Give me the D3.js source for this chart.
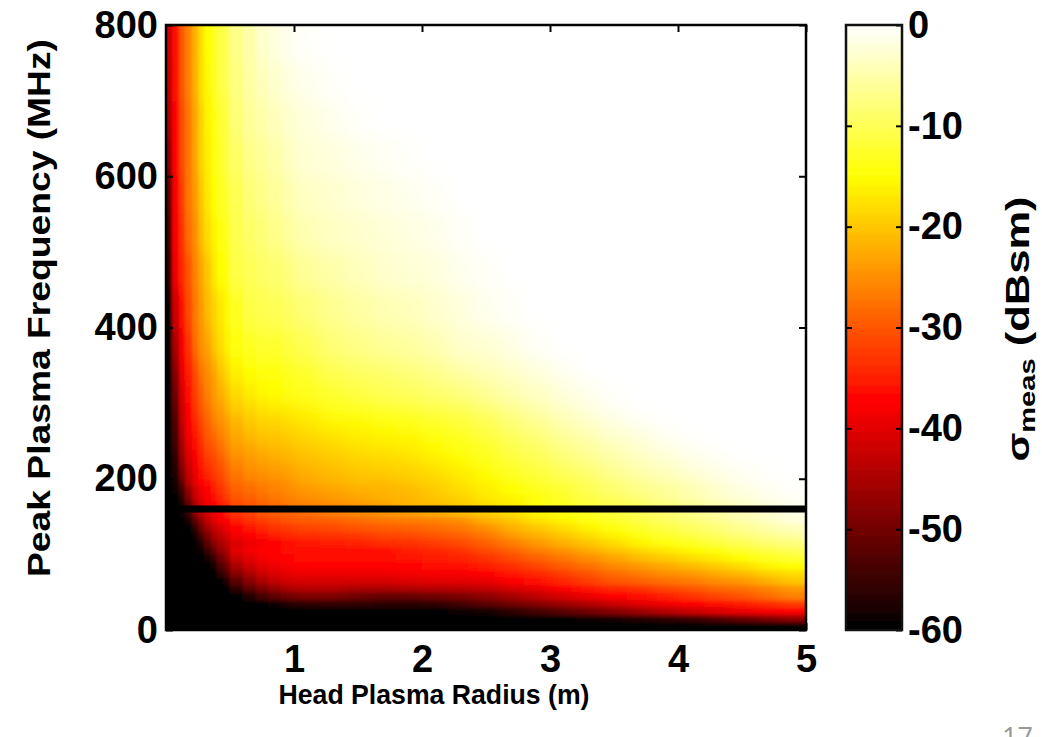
<!DOCTYPE html>
<html><head><meta charset="utf-8">
<script src="https://cdn.jsdelivr.net/npm/d3@7/dist/d3.min.js"></script>
<style>html,body{margin:0;padding:0;background:#fff;overflow:hidden}svg{display:block}
text{font-family:"Liberation Sans",Arial,sans-serif;font-weight:bold;fill:#000}</style>
</head><body><svg id="c" width="1042" height="737"></svg>
<script>
// right edge of each radius column (m)
const radiusEdges=[.05,.1,.15,.2,.25,.3,.35,.4,.45,.5,.6,.7,.8,.9,1,1.2,1.4,1.6,1.8,2,2.2,2.4,2.6,2.8,3,3.2,3.4,3.6,3.8,4,4.2,4.4,4.6,4.8,5];
// top edge of each frequency row (MHz), same order as sigmaMeas rows
const freqEdges=[800,750,700,650,600,550,500,450,400,360,330,300,280,260,240,220,200,190,180,170,160,150,140,130,120,110,100,90,80,70,60,50,40,30,20,10];
// sigma_meas (dBsm)
const sigmaMeas=[
[-42,-36,-30,-26,-22,-18,-15,-13,-11,-10,-7,-5,-3,-2,-1,-.3,0,0,0,0,0,0,0,0,0,0,0,0,0,0,0,0,0,0,0],
[-43,-36,-30,-26,-22,-18,-15.5,-13,-11,-10,-7.5,-5.5,-4,-3,-2,-1,-.3,0,0,0,0,0,0,0,0,0,0,0,0,0,0,0,0,0,0],
[-45,-37,-31,-27,-23,-19,-16,-14,-12,-11,-8,-6,-5,-4,-3,-2,-1,-.3,0,0,0,0,0,0,0,0,0,0,0,0,0,0,0,0,0],
[-48,-37,-31,-27,-23,-19,-16.5,-14,-12.5,-11,-9,-7,-6,-5,-4,-2.5,-2,-1.2,-.7,-.3,0,0,0,0,0,0,0,0,0,0,0,0,0,0,0],
[-52,-38,-32,-27,-24,-20,-17,-15,-13,-12,-10,-8,-7,-6,-5,-3.5,-2.8,-2,-1.5,-1,-.5,0,0,0,0,0,0,0,0,0,0,0,0,0,0],
[-54,-38,-33,-28,-25,-21,-18,-16,-14,-13,-10.5,-9,-8,-7,-6,-4.5,-3.5,-3,-2.3,-1.8,-1.2,-.5,0,0,0,0,0,0,0,0,0,0,0,0,0],
[-56,-39,-34,-30,-26,-23,-20,-17,-15,-14,-11,-10,-9,-8.5,-8,-6,-5,-4,-3,-2.5,-2,-1,-.4,0,0,0,0,0,0,0,0,0,0,0,0],
[-60,-42,-36,-31,-27,-24,-21,-19,-17,-15.5,-13,-11,-10.5,-10,-9.5,-8,-6.5,-5.5,-4.5,-4,-3,-2,-1,-.4,0,0,0,0,0,0,0,0,0,0,0],
[-60,-45,-38,-33,-28,-25,-23,-20,-18,-16,-14,-13,-12,-12,-11.5,-10,-8,-7,-6,-5.5,-4.5,-3,-2.5,-1.5,-.4,0,0,0,0,0,0,0,0,0,0],
[-60,-48,-39,-35,-31,-27,-25,-23,-20,-18,-16,-15,-14,-14,-13,-12,-10,-9,-8.5,-7.5,-6.5,-5,-4,-3,-1.8,-.7,0,0,0,0,0,0,0,0,0],
[-60,-50,-41,-36,-32,-29,-26,-24,-22,-20,-18,-16.5,-15.5,-15,-14.5,-13.5,-12,-11,-10,-9.5,-8.5,-7.5,-6,-4.5,-3.5,-2,-1,-.2,0,0,0,0,0,0,0],
[-60,-52,-42,-37,-33,-30,-28,-25,-24,-22,-20,-19,-18,-17.5,-17,-16,-14.5,-14,-13,-12.5,-11.5,-10.5,-9,-7,-5,-3.5,-2,-.8,0,0,0,0,0,0,0],
[-60,-53,-43,-38,-35,-32,-29,-27,-25,-24,-22,-20,-19,-19,-18.5,-17.5,-16,-15.5,-15,-14,-13,-12,-10.5,-8.5,-7,-5,-3.5,-2,-1,-.2,0,0,0,0,0],
[-60,-54,-45,-39,-36,-33,-30,-29,-27,-25,-23,-22,-21,-20.5,-20,-19,-18,-17,-16.5,-16,-15,-13.5,-12,-10,-8.5,-6.5,-5,-3.5,-2.5,-1,-.3,0,0,0,0],
[-60,-56,-46,-41,-38,-35,-32,-31,-29,-27,-25,-24,-23,-22,-22,-20.5,-19.5,-18.5,-18,-17.5,-16,-15,-13.5,-11.5,-10,-8,-6.5,-5,-3.5,-2.5,-1.2,-.5,0,0,0],
[-60,-57,-49,-43,-39,-36,-34,-32,-31,-29,-27,-25,-24.5,-24,-23.5,-22,-21,-20,-19.5,-19,-18,-16.5,-15,-13,-11.5,-10,-8.5,-6.5,-5,-4,-2.5,-1.5,-.7,-.2,0],
[-60,-58,-52,-44,-40,-37.5,-36,-34,-32,-30,-28,-27,-26,-25.5,-25,-23,-22,-21,-21,-20,-19,-17.5,-16,-14.5,-12.5,-11,-9.5,-8,-6.5,-5,-4,-2.5,-1.2,-.5,-.1],
[-60,-59,-54,-47,-42,-39,-37,-35,-33,-31,-29,-28,-27,-26,-25.5,-24,-23,-22,-21.5,-21,-19.5,-18,-16.5,-15,-13.5,-12,-10,-8.5,-7,-6,-4.5,-3,-1.8,-.8,-.3],
[-60,-60,-56,-49,-43,-40,-38,-36,-34,-32,-30,-29,-28,-27,-26.5,-25,-24,-23,-22,-21.5,-20,-19,-17,-16,-14,-12.5,-11,-9.5,-8,-6.5,-5,-3.5,-2.3,-1.3,-.6],
[-60,-60,-58,-52,-45,-41,-39,-37,-35,-34,-31,-30,-29,-28,-27,-26,-25,-24,-23,-21.5,-21,-19.5,-18,-16.5,-14.5,-13,-11.5,-10,-9,-7.5,-6,-4.5,-3.2,-2,-1],
[-60,-60,-59,-55,-48,-44,-41,-39,-37,-35,-33,-32,-30,-29.5,-29,-28,-26.5,-25.5,-24.5,-23.5,-22.5,-21,-19.5,-18,-16,-14.5,-13,-11.5,-10,-8.5,-7,-5.5,-4,-3,-1.5],
[-60,-60,-60,-58,-52,-47,-43,-40,-38,-37,-35,-33,-32,-31,-30,-29.5,-29,-28,-27,-26.5,-26,-25,-22,-20,-17.5,-16,-14,-12.5,-11,-9.5,-8,-6.5,-5,-3.5,-2],
[-60,-60,-60,-60,-56,-50,-46,-43,-41,-39,-37,-35.5,-34,-33,-32.5,-31.5,-31,-30,-29.5,-29,-28,-27,-25,-22,-20,-18,-16,-14,-12.5,-11,-9.5,-8,-6.5,-5,-4],
[-60,-60,-60,-60,-58,-54,-49,-45,-43,-41,-38.5,-37,-36,-35,-34,-33.5,-33,-32.5,-31.5,-31,-30,-29,-27,-24,-22,-20,-18,-16,-14,-12.5,-11,-9.5,-8,-6.5,-5.5],
[-60,-60,-60,-60,-60,-57,-52,-48,-45,-43,-40.5,-39,-38,-37,-36,-35.5,-35,-34.5,-33.5,-33,-32,-31,-29,-26.5,-24,-22,-20,-18,-16,-14.5,-13,-11.5,-10,-8.5,-7.5],
[-60,-60,-60,-60,-60,-59,-55,-51,-47,-45,-40,-38.5,-37.5,-37,-36.5,-36,-36,-36,-36,-35,-34,-33,-31,-29,-26.5,-24.5,-22.5,-20.5,-18.5,-17,-15.5,-14,-12.5,-11,-10],
[-60,-60,-60,-60,-60,-60,-58,-55,-50,-47,-42,-40,-38.5,-37.5,-37,-36.5,-36.5,-36.5,-36,-35.5,-35,-34.5,-33,-31,-29,-27,-25,-23,-21,-19.5,-18,-16.5,-15,-13,-12],
[-60,-60,-60,-60,-60,-60,-60,-58,-53,-50,-45,-42,-40,-39,-38,-37.5,-37.5,-37.5,-37.5,-37,-36.5,-36,-35,-33.5,-31.5,-29.5,-27.5,-25.5,-24,-22.5,-21,-19.5,-18,-16,-15],
[-60,-60,-60,-60,-60,-60,-60,-60,-56,-53,-48,-45,-42,-40.5,-39.5,-39,-39,-39,-39,-38.5,-38,-38,-37,-35.5,-34,-32,-30,-28,-26.5,-25,-24,-22.5,-21,-19,-18],
[-60,-60,-60,-60,-60,-60,-60,-60,-60,-57,-52,-48,-45,-43,-41.5,-41,-41,-41,-41,-40.5,-40,-40,-39.5,-37.5,-36,-34,-32,-30,-29,-27.5,-26.5,-25,-24,-22,-20],
[-60,-60,-60,-60,-60,-60,-60,-60,-60,-60,-56,-52,-49,-47,-45,-44,-44,-45,-45,-44.5,-44,-43.5,-43,-41,-39.5,-37.5,-35.5,-34,-33,-31.5,-30,-28.5,-27.5,-26,-24],
[-60,-60,-60,-60,-60,-60,-60,-60,-60,-60,-60,-57,-54,-52,-50,-49,-49,-50,-51,-51,-50,-49,-47.5,-45.5,-43,-41,-39,-37.5,-36,-35,-33,-31.5,-30,-28,-26],
[-60,-60,-60,-60,-60,-60,-60,-60,-60,-60,-60,-60,-60,-59,-57,-56,-55.5,-55.5,-56,-56,-55.5,-54,-52,-50,-48,-46,-44,-42,-40,-38.5,-37,-36,-35,-33.5,-32],
[-60,-60,-60,-60,-60,-60,-60,-60,-60,-60,-60,-60,-60,-60,-60,-60,-60,-60,-60,-60,-60,-59,-58,-56,-54,-52,-50,-48,-46,-44,-42,-40.5,-39,-38,-37],
[-60,-60,-60,-60,-60,-60,-60,-60,-60,-60,-60,-60,-60,-60,-60,-60,-60,-60,-60,-60,-60,-60,-60,-60,-60,-60,-59,-58,-57,-56,-55,-53,-51,-49,-47],
[-60,-60,-60,-60,-60,-60,-60,-60,-60,-60,-60,-60,-60,-60,-60,-60,-60,-60,-60,-60,-60,-60,-60,-60,-60,-60,-60,-60,-60,-60,-60,-60,-60,-60,-60]
];
const radiusTicks=[1,2,3,4,5];
const freqTicks=[0,200,400,600,800];
const sigmaTicks=[0,-10,-20,-30,-40,-50,-60];
const referenceFreq=160;
const colormapDomain=[-60,-37.5,-15,0];
const colormapRange=["#000000","#ff0000","#ffff00","#ffffff"];
const colorbarLevels=64;

const svg=d3.select("#c");
const x=d3.scaleLinear().domain([0,5]).range([166,806]);
const y=d3.scaleLinear().domain([0,800]).range([630,25]);
const cbY=d3.scaleLinear().domain([-60,0]).range([630,25]);
const color=d3.scaleLinear().domain(colormapDomain).range(colormapRange).clamp(true);
const defs=svg.append("defs");

const cells=[];
sigmaMeas.forEach((row,i)=>row.forEach((v,j)=>cells.push({
  x0:j?radiusEdges[j-1]:0,x1:radiusEdges[j],
  top:freqEdges[i],bottom:i<freqEdges.length-1?freqEdges[i+1]:0,v})));

// The reference is a soft JPEG: each part of the grid gets a softening matched to its cell size.
const rSplit=.9,fSplit=200,bleed=40;
const parts=[
 {id:"tr",r:[rSplit,5],f:[fSplit,800],blur:"8 9"},
 {id:"tl",r:[0,rSplit],f:[fSplit,800],blur:"1.6 9"},
 {id:"br",r:[rSplit,5],f:[0,fSplit],blur:"8 2"},
 {id:"bl",r:[0,rSplit],f:[0,fSplit],blur:"1.6 2"}];
const area=svg.append("g");
parts.forEach(p=>{
  // whole-pixel, slightly overlapping clips so no pale seam shows between the parts
  const cx0=Math.floor(x(p.r[0])),cx1=Math.ceil(x(p.r[1]))+1,cy0=Math.floor(y(p.f[1])),cy1=Math.ceil(y(p.f[0]))+1;
  defs.append("clipPath").attr("id","clip-"+p.id).append("rect")
    .attr("x",cx0).attr("y",cy0).attr("width",cx1-cx0).attr("height",cy1-cy0);
  defs.append("filter").attr("id","soft-"+p.id).attr("filterUnits","userSpaceOnUse")
    .attr("x",x(0)-bleed).attr("y",y(800)-bleed).attr("width",x(5)-x(0)+2*bleed).attr("height",y(0)-y(800)+2*bleed)
    .append("feGaussianBlur").attr("stdDeviation",p.blur);
  area.append("g").attr("clip-path",`url(#clip-${p.id})`).append("g").attr("filter",`url(#soft-${p.id})`)
    .selectAll("rect").data(cells).join("rect")
    .attr("x",d=>x(d.x0)-(d.x0===0?bleed:0))
    .attr("y",d=>y(d.top)-(d.top===800?bleed:0))
    .attr("width",d=>x(d.x1)-x(d.x0)+.5+(d.x0===0?bleed:0)+(d.x1===5?bleed:0))
    .attr("height",d=>y(d.bottom)-y(d.top)+.5+(d.top===800?bleed:0)+(d.bottom===0?bleed:0))
    .attr("fill",d=>color(d.v)).attr("shape-rendering","crispEdges");
});

svg.append("line").attr("x1",x(0)-1).attr("x2",x(5)).attr("y1",y(referenceFreq)).attr("y2",y(referenceFreq))
  .attr("stroke","#000").attr("stroke-width",7);

const style=(g,fs)=>{g.select(".domain").remove();
  g.selectAll("line").attr("stroke","#000").attr("stroke-width",2);
  g.selectAll("text").style("font-size",fs+"px");};
const TS=7, FS=38;
svg.append("g").attr("transform",`translate(${x(0)},0)`).call(d3.axisLeft(y).tickValues(freqTicks).tickSizeInner(-TS).tickPadding(8).tickFormat(String)).call(style,FS);
svg.append("g").attr("transform",`translate(${x(5)},0)`).call(d3.axisRight(y).tickValues(freqTicks).tickSizeInner(-TS).tickFormat("")).call(style,FS);
svg.append("g").attr("transform",`translate(0,${y(0)})`).call(d3.axisBottom(x).tickValues(radiusTicks).tickSizeInner(-TS).tickPadding(15).tickFormat(String)).call(style,FS);
svg.append("g").attr("transform",`translate(0,${y(800)})`).call(d3.axisTop(x).tickValues(radiusTicks).tickSizeInner(-TS).tickFormat("")).call(style,FS);
svg.append("rect").attr("x",x(0)).attr("y",y(800)).attr("width",x(5)-x(0)).attr("height",y(0)-y(800))
  .attr("fill","none").attr("stroke","#000").attr("stroke-width",2.5);

// colour bar
const cbX0=846,cbX1=902;
const levels=d3.range(colorbarLevels);
const span=60/colorbarLevels;
defs.append("clipPath").attr("id","clip-cb").append("rect").attr("x",cbX0).attr("y",cbY(0)).attr("width",cbX1-cbX0).attr("height",cbY(-60)-cbY(0));
defs.append("filter").attr("id","soft-cb").attr("filterUnits","userSpaceOnUse").attr("x",cbX0-5).attr("y",0).attr("width",cbX1-cbX0+10).attr("height",680)
  .append("feGaussianBlur").attr("stdDeviation","0 2");
svg.append("g").attr("clip-path","url(#clip-cb)").append("g").attr("filter","url(#soft-cb)")
  .selectAll("rect").data(levels).join("rect")
  .attr("x",cbX0).attr("width",cbX1-cbX0)
  .attr("y",d=>cbY(-60+(d+1)*span)-(d===colorbarLevels-1?10:0))
  .attr("height",d=>cbY(-60+d*span)-cbY(-60+(d+1)*span)+.5+(d===0||d===colorbarLevels-1?10:0))
  .attr("fill",d=>color(-60+(d+.5)*span));
const cbAxis=svg.append("g").attr("transform",`translate(${cbX1},0)`)
  .call(d3.axisRight(cbY).tickValues(sigmaTicks).tickSizeInner(-6).tickPadding(12).tickFormat(String)).call(style,FS);
cbAxis.selectAll("text").attr("x",6);
svg.append("g").attr("transform",`translate(${cbX0},0)`)
  .call(d3.axisLeft(cbY).tickValues(sigmaTicks.filter(d=>d!==0&&d!==-60)).tickSizeInner(-6).tickFormat("")).call(style,FS);
svg.append("rect").attr("x",cbX0).attr("y",25).attr("width",cbX1-cbX0).attr("height",605)
  .attr("fill","none").attr("stroke","#111").attr("stroke-width",2.5);

// titles (the reference stretched these along their length)
svg.append("text").attr("x",434).attr("y",704).attr("text-anchor","middle").attr("textLength",311).attr("lengthAdjust","spacingAndGlyphs").style("font-size","28px").text("Head Plasma Radius (m)");
svg.append("text").attr("transform","translate(50,308) rotate(-90)").attr("text-anchor","middle").attr("textLength",538).attr("lengthAdjust","spacingAndGlyphs").style("font-size","32px").text("Peak Plasma Frequency (MHz)");
const cb=svg.append("text").attr("transform","translate(1029,329) rotate(-90) scale(1.32,1)").attr("text-anchor","middle");
cb.append("tspan").style("font-size","32px").text("σ");
cb.append("tspan").style("font-size","22px").attr("dy",6).text("meas");
cb.append("tspan").style("font-size","33px").attr("dy",-6).text(" (dBsm)");
svg.append("text").attr("x",1002).attr("y",747).style("font-size","27px").style("font-family","'Open Sans'").style("font-weight","normal").style("fill","#999").text("17");
</script></body></html>
